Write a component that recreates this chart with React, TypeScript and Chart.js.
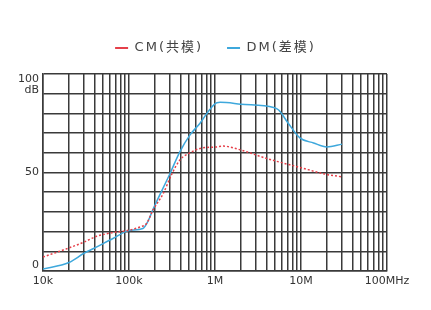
import React, { useEffect, useRef } from 'react';
import { Chart, registerables } from 'chart.js';

Chart.register(...registerables);

// Frequencies in Hz and attenuation in dB
const freqCM = [1e4, 2e4, 3e4, 4.2e4, 6.5e4, 1e5, 1.35e5, 1.6e5, 1.9e5, 2.5e5, 3.1e5, 3.9e5, 5.1e5, 6.7e5, 1.05e6, 1.25e6, 2e6, 4e6, 9.7e6, 2e7, 3e7];
const valuesCM = [7.1, 11.7, 14.7, 17.6, 19.5, 20.7, 22.4, 24.1, 30.9, 39.3, 48.6, 56.3, 60, 62.2, 63, 63.4, 61.4, 57.1, 52.6, 49, 47.8];

const freqDM = [1e4, 2e4, 3e4, 4e4, 6.5e4, 1e5, 1.45e5, 1.65e5, 1.92e5, 3e5, 3.9e5, 5.1e5, 6.7e5, 8.7e5, 1.05e6, 1.15e6, 2e6, 4.8e6, 5.5e6, 7.1e6, 9.7e6, 1.4e7, 2e7, 3e7];
const valuesDM = [1, 4.3, 9, 11.7, 16.5, 20.5, 21.6, 25, 31.7, 49.5, 60.5, 69, 75, 82, 85.4, 85.6, 84.7, 83, 81.7, 75, 67.6, 65, 63, 64.4];

const seriesNames = ['CM(共模)', 'DM(差模)'];

// Axis ticks
const xDecades = [1e4, 1e5, 1e6, 1e7, 1e8];
const xTickLabels = ['10k', '100k', '1M', '10M', '100MHz'];
const xMinorMultiples = [2, 3, 4, 5, 6, 7, 8, 9];
const yLabelValues = [0, 50, 100];
const yUnit = 'dB';

export default function App() {
  const ref = useRef<HTMLCanvasElement>(null);

  useEffect(() => {
    document.body.style.margin = '0';
    const canvas = ref.current;
    if (!canvas) return;

    const gridColor = '#3a3a3a';
    const textColor = '#333333';
    const tickFont = { family: "'DejaVu Sans', Verdana, sans-serif", size: 11, lineHeight: '11px' };

    const xGridValues: number[] = [];
    xDecades.forEach((d, i) => {
      xGridValues.push(d);
      if (i < xDecades.length - 1) xMinorMultiples.forEach((m) => xGridValues.push(m * d));
    });

    const legendTweak = {
      id: 'legendTweak',
      afterInit(chart: any) {
        const lg = chart.legend;
        if (!lg) return;
        const fit = lg.fit.bind(lg);
        const draw = lg.draw.bind(lg);
        lg.fit = function () {
          const ctx = this.ctx;
          const prev = ctx.letterSpacing;
          ctx.letterSpacing = '2px';
          fit();
          ctx.letterSpacing = prev || '0px';
          this.height += 9.5;
        };
        lg.draw = function () {
          const ctx = this.ctx;
          const prev = ctx.letterSpacing;
          ctx.letterSpacing = '2px';
          draw();
          ctx.letterSpacing = prev || '0px';
        };
      },
    };

    const chart = new Chart(canvas, {
      type: 'line',
      data: {
        datasets: [
          {
            label: seriesNames[0],
            data: freqCM.map((f, i) => ({ x: f, y: valuesCM[i] })),
            borderColor: '#e5404a',
            backgroundColor: '#e5404a',
            borderWidth: 1.5,
            borderDash: [2, 2],
            pointRadius: 0,
            cubicInterpolationMode: 'monotone',
            fill: false,
          },
          {
            label: seriesNames[1],
            data: freqDM.map((f, i) => ({ x: f, y: valuesDM[i] })),
            borderColor: '#3ea8dc',
            backgroundColor: '#3ea8dc',
            borderWidth: 1.5,
            pointRadius: 0,
            cubicInterpolationMode: 'monotone',
            fill: false,
          },
        ],
      },
      options: {
        responsive: false,
        animation: false,
        events: [],
        layout: { padding: { top: 17.5, left: 0, right: 0, bottom: 0 } },
        plugins: {
          tooltip: { enabled: false },
          legend: {
            display: true,
            position: 'top',
            labels: {
              usePointStyle: true,
              pointStyle: 'line',
              pointStyleWidth: 13,
              padding: 24,
              color: '#444444',
              font: { family: "'DejaVu Sans', 'Noto Sans CJK SC', sans-serif", size: 13 },
              generateLabels(c: any) {
                const items = Chart.defaults.plugins.legend.labels.generateLabels(c);
                items.forEach((it: any) => {
                  it.lineDash = [];
                  it.lineWidth = 2;
                });
                return items;
              },
            },
          },
        },
        scales: {
          x: {
            type: 'logarithmic',
            min: xDecades[0],
            max: xDecades[xDecades.length - 1],
            afterBuildTicks(scale: any) {
              scale.ticks = xGridValues.map((v) => ({ value: v, major: false }));
            },
            afterFit(scale: any) {
              scale.height = 39;
            },
            ticks: {
              autoSkip: false,
              maxRotation: 0,
              minRotation: 0,
              padding: 5,
              color: textColor,
              font: tickFont,
              callback(value: any) {
                const i = xDecades.indexOf(Number(value));
                return i >= 0 ? xTickLabels[i] : '';
              },
            },
            grid: { color: gridColor, lineWidth: 1.5, drawTicks: false },
            border: { display: true, color: gridColor, width: 1.5 },
          },
          y: {
            type: 'linear',
            position: 'left',
            min: 0,
            max: 100,
            afterFit(scale: any) {
              scale.width = 43;
            },
            ticks: {
              stepSize: 10,
              autoSkip: false,
              padding: 4,
              color: textColor,
              font: tickFont,
              callback(value: any) {
                const v = Number(value);
                if (!yLabelValues.includes(v)) return '';
                if (v === yLabelValues[yLabelValues.length - 1]) return ['', '', String(v), yUnit];
                if (v === yLabelValues[0]) return [String(v), ''];
                return String(v);
              },
            },
            grid: { color: gridColor, lineWidth: 1.5, drawTicks: false },
            border: { display: true, color: gridColor, width: 1.5 },
          },
          yRight: {
            type: 'linear',
            position: 'right',
            display: true,
            afterFit(scale: any) {
              scale.width = 44;
            },
            ticks: { display: false },
            grid: { display: false, drawTicks: false },
            border: { display: false },
          },
        },
      },
      plugins: [legendTweak],
    } as any);

    return () => chart.destroy();
  }, []);

  return (
    <div style={{ width: 431, height: 310, background: '#ffffff' }}>
      <canvas ref={ref} width={431} height={310} style={{ display: 'block' }} />
    </div>
  );
}
